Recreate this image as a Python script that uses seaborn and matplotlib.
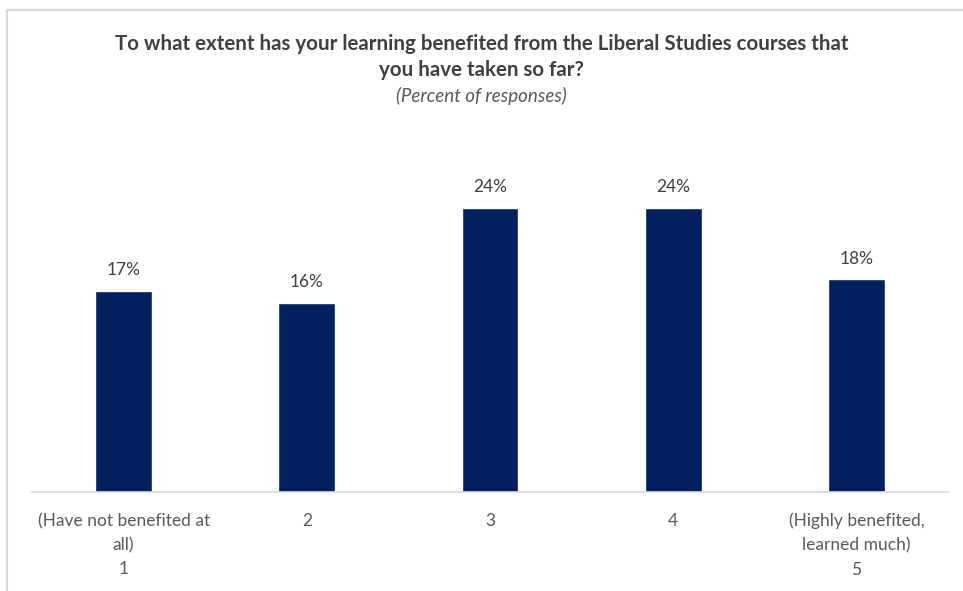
import matplotlib
matplotlib.use("Agg")
import matplotlib.pyplot as plt
import seaborn as sns
import pandas as pd
from matplotlib.lines import Line2D

categories = ["(Have not benefited at\nall)\n1", "2", "3", "4", "(Highly benefited,\nlearned much)\n5"]
values = [17, 16, 24, 24, 18]
value_labels = ["17%", "16%", "24%", "24%", "18%"]

sns.set_theme(style="white")
plt.rcParams['font.family'] = ['Lato', 'DejaVu Sans']

df = pd.DataFrame({"cat": categories, "val": values})

fig = plt.figure(figsize=(9.63, 5.91), dpi=100)
ax = fig.add_axes([32/963, 99/591, 916/963, 355/591])
sns.barplot(data=df, x="cat", y="val", color="#002060", saturation=1, width=0.31, ax=ax)
ax.set_xlim(-0.5, 4.5)
ax.set_ylim(0, 30)
ax.set_xlabel("")
ax.set_ylabel("")
ax.set_yticks([])
for s in ["top", "right", "left"]:
    ax.spines[s].set_visible(False)
ax.spines["bottom"].set_color("#d9d9d9")
ax.spines["bottom"].set_linewidth(1.2)
ax.tick_params(axis="x", length=0, pad=15, labelsize=12.5, labelcolor="#595959")
for lab in ax.get_xticklabels():
    lab.set_linespacing(1.62)
    lab.set_verticalalignment("top")

for p, t in zip(ax.patches, value_labels):
    ax.annotate(t, (p.get_x() + p.get_width() / 2, p.get_height()),
                xytext=(0, 9), textcoords="offset points", ha="center", va="bottom",
                fontsize=12.5, color="#404040")

fig.text(0.5, 1 - 44/591, "To what extent has your learning benefited from the Liberal Studies courses that",
         ha="center", va="center", fontsize=14.8, fontweight="bold", color="#404040")
fig.text(0.5, 1 - 70/591, "you have taken so far?",
         ha="center", va="center", fontsize=14.8, fontweight="bold", color="#404040")
fig.text(0.5, 1 - 96/591, "(Percent of responses)",
         ha="center", va="center", fontsize=13.5, fontstyle="italic", color="#595959")

# light chart frame (top and left edges visible)
fig.add_artist(Line2D([7/963, 1.0], [1 - 10/591, 1 - 10/591], transform=fig.transFigure,
                      color="#d9d9d9", linewidth=1.5))
fig.add_artist(Line2D([7/963, 7/963], [0, 1 - 10/591], transform=fig.transFigure,
                      color="#d9d9d9", linewidth=1.5))

fig.savefig("out.png", dpi=100, facecolor="white")
